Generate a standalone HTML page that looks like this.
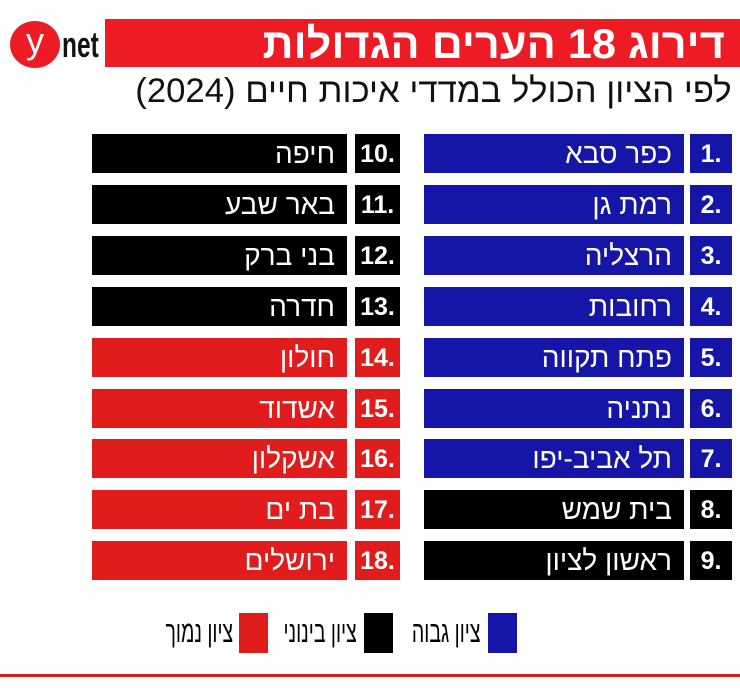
<!DOCTYPE html>
<html><head><meta charset="utf-8"><style>
body{margin:0;width:740px;height:699px;background:#fff;position:relative;overflow:hidden;font-family:"Liberation Sans","DejaVu Sans",sans-serif}
.a{position:absolute}
.nb,.nm{position:absolute;height:39px;color:#fff;box-sizing:border-box}
.nb{font-weight:bold;font-size:25px;line-height:41px;text-align:center}
.nm{font-size:28px;line-height:39px;text-align:right;padding-right:12px;direction:rtl}
.c{display:inline-block;transform-origin:right center}
.B{background:#1515a8}.K{background:#000}.R{background:#e01c1c}
.lg{position:absolute;top:613px;width:29px;height:40px}
.lt{position:absolute;top:613px;font-size:30px;line-height:40px;direction:rtl;text-align:right}
</style></head><body>
<div class="a" style="left:105px;top:19px;width:635px;height:48px;background:#ed1c24"></div>
<div class="a" style="right:15px;top:19px;height:48px;line-height:50px;color:#fff;font-weight:bold;font-size:42px;direction:rtl"><span class="c" style="transform:scaleX(1.03)">דירוג 18 הערים הגדולות</span></div>
<div class="a" style="left:10px;top:21px;width:50px;height:47px;border-radius:50%;background:#ed1c24;color:#fff;font-size:36px;text-align:center;line-height:40px">y</div>
<div class="a" style="left:62px;top:21px;font-size:36px;font-weight:bold;line-height:48px;color:#111"><span style="display:inline-block;transform:scaleX(.68);transform-origin:left">net</span></div>
<div class="a" style="right:8px;top:72px;font-size:34px;line-height:38px;direction:rtl;color:#111"><span class="c" style="transform:scaleX(1.02)">לפי הציון הכולל במדדי איכות חיים (2024)</span></div>

<div id="rows"></div>
<script>
const R=[["כפר סבא","B"],["רמת גן","B"],["הרצליה","B"],["רחובות","B"],["פתח תקווה","B"],["נתניה","B"],["תל אביב-יפו","B"],["בית שמש","K"],["ראשון לציון","K"]];
const L=[["חיפה","K"],["באר שבע","K"],["בני ברק","K"],["חדרה","K"],["חולון","R"],["אשדוד","R"],["אשקלון","R"],["בת ים","R"],["ירושלים","R"]];
let h="";
for(let i=0;i<9;i++){const y=134+i*50.9;
h+=`<div class="nb ${R[i][1]}" style="left:690px;top:${y}px;width:42px">${i+1}.</div><div class="nm ${R[i][1]}" style="left:424px;top:${y}px;width:260px"><span class="c">${R[i][0]}</span></div>`;
h+=`<div class="nb ${L[i][1]}" style="left:355px;top:${y}px;width:45px">${i+10}.</div><div class="nm ${L[i][1]}" style="left:92px;top:${y}px;width:255px"><span class="c">${L[i][0]}</span></div>`;}
document.getElementById("rows").innerHTML=h;
</script>
<div class="lg B" style="left:488px"></div><div class="lt" style="right:260px"><span class="c" style="transform:scaleX(.65)">ציון גבוה</span></div>
<div class="lg K" style="left:364px"></div><div class="lt" style="right:383px"><span class="c" style="transform:scaleX(.65)">ציון בינוני</span></div>
<div class="lg R" style="left:239px"></div><div class="lt" style="right:507px"><span class="c" style="transform:scaleX(.65)">ציון נמוך</span></div>
<div class="a" style="left:0;top:674px;width:740px;height:3px;background:#e01c1c"></div>
</body></html>
